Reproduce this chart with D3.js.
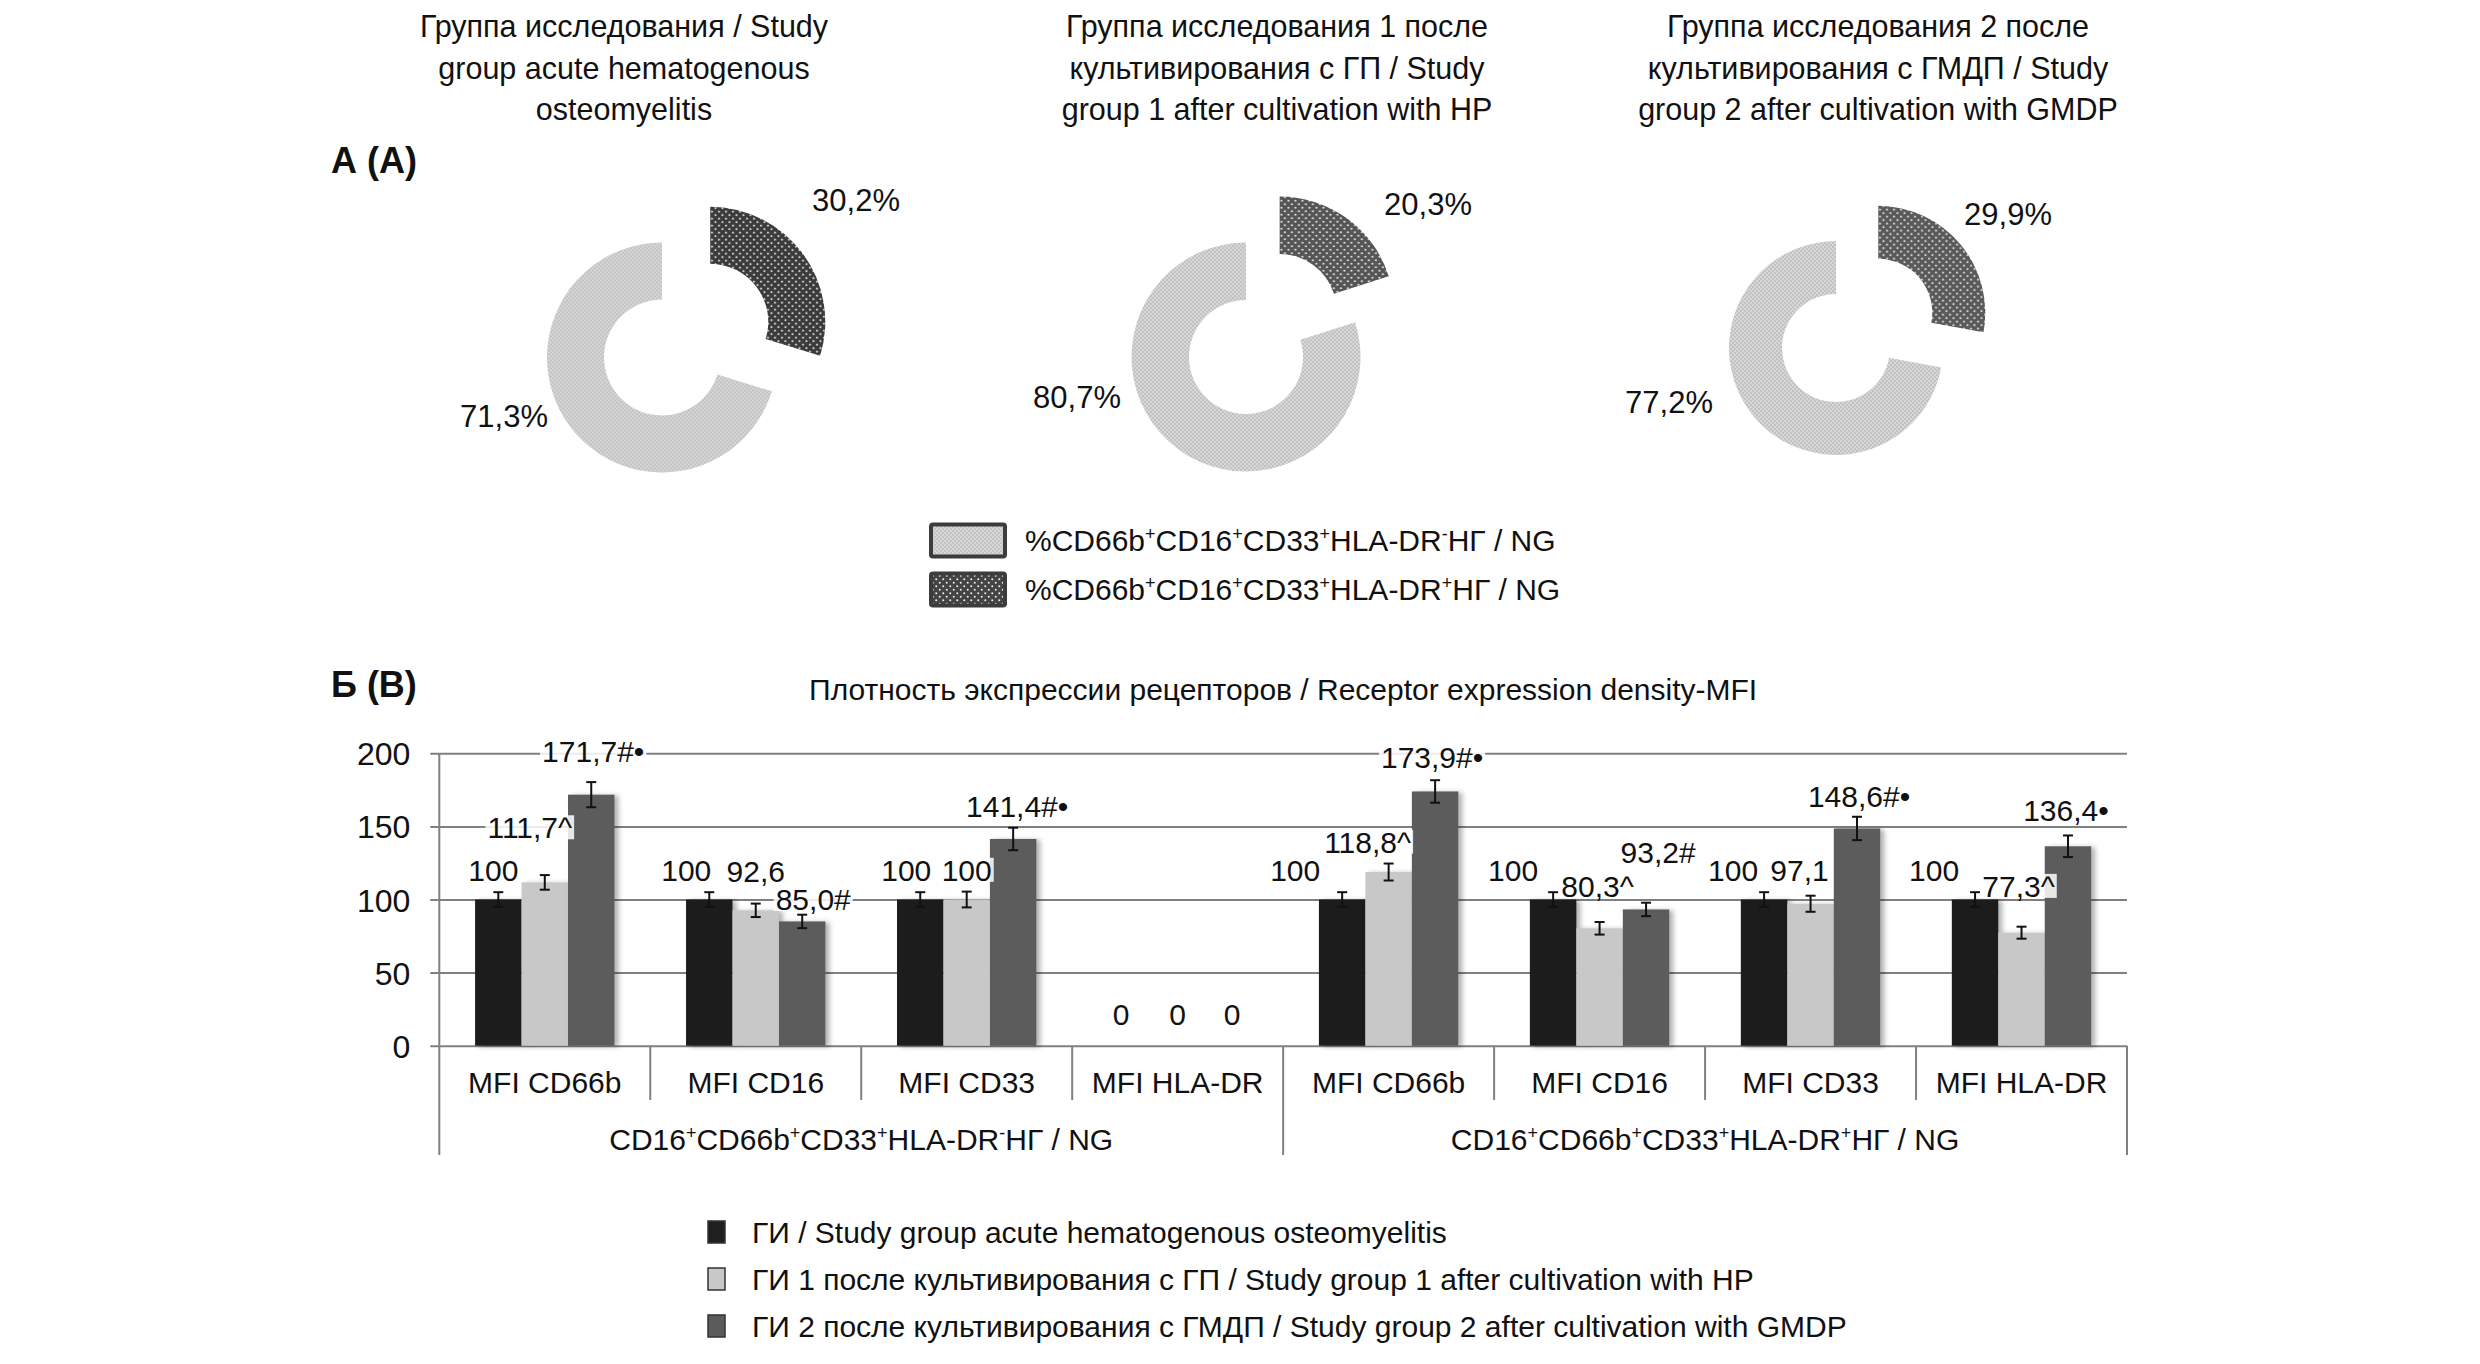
<!doctype html>
<html>
  <head>
    <meta charset="utf-8" />
    <title>CD66b CD16 CD33 HLA-DR</title>
    <script type="text/javascript" src="https://cdnjs.cloudflare.com/ajax/libs/d3/7.8.5/d3.min.js"></script>
    <style>
      body {
        margin:0;
        background:#fff;
        font-family:"Liberation Sans", Arial, sans-serif;
      }
      svg text {
        fill:#111;
      }
    </style>
  </head>
  <body>
    <div class="chart"></div>
    <script type="text/javascript">

(function() {

/*---- data ----*/

/*doughnuts (panel A)*/
var donut_titles = [
  ["Группа исследования / Study", "group acute hematogenous", "osteomyelitis"],
  ["Группа исследования 1 после", "культивирования с ГП / Study", "group 1 after cultivation with HP"],
  ["Группа исследования 2 после", "культивирования с ГМДП / Study", "group 2 after cultivation with GMDP"]
];
var pct_dr_pos = [30.2, 20.3, 29.9];   /*HLA-DR+ share*/
var pct_dr_neg = [71.3, 80.7, 77.2];   /*HLA-DR- share*/
var donut_legend = ["%CD66b⁺CD16⁺CD33⁺HLA-DR⁻НГ / NG", "%CD66b⁺CD16⁺CD33⁺HLA-DR⁺НГ / NG"];

/*bars (panel B)*/
var categories = ["MFI CD66b", "MFI CD16", "MFI CD33", "MFI HLA-DR",
                  "MFI CD66b", "MFI CD16", "MFI CD33", "MFI HLA-DR"];
var cat_groups = ["CD16⁺CD66b⁺CD33⁺HLA-DR⁻НГ / NG", "CD16⁺CD66b⁺CD33⁺HLA-DR⁺НГ / NG"];
var series_names = [
  "ГИ / Study group acute hematogenous osteomyelitis",
  "ГИ 1 после культивирования с ГП / Study group 1 after cultivation with HP",
  "ГИ 2 после культивирования с ГМДП / Study group 2 after cultivation with GMDP"
];
var vals_gi  = [100, 100, 100, 0, 100, 100, 100, 100];
var vals_gi1 = [111.7, 92.6, 100, 0, 118.8, 80.3, 97.1, 77.3];
var vals_gi2 = [171.7, 85.0, 141.4, 0, 173.9, 93.2, 148.6, 136.4];
var err_gi   = [5, 5, 5, 0, 5, 5, 5, 5];
var err_gi1  = [5, 4.6, 5.4, 0, 5.8, 4.3, 5.5, 4.1];
var err_gi2  = [8.6, 4.6, 7.7, 0, 7.7, 4.6, 8, 7.4];
var marks_gi  = ["", "", "", "", "", "", "", ""];
var marks_gi1 = ["^", "", "", "", "^", "^", "", "^"];
var marks_gi2 = ["#•", "#", "#•", "", "#•", "#", "#•", "•"];
var y_ticks = [0, 50, 100, 150, 200];

/*---- layout / style (not data) ----*/
var g = {};
g.W = 2480;
g.H = 1364;
g.font = "'Liberation Sans', Arial, sans-serif";

var donut_cx = [662, 1246, 1836];
var donut_cy = [357.5, 357, 348];
var donut_r = [[58, 115], [57, 114.5], [54, 107]];
var donut_explode = [60, 57, 55];
var donut_dark = ["#3a3a3a", "#555555", "#595959"];
var title_cx = [624, 1277, 1878];
/*where excel put the % labels, relative to doughnut centre*/
var pct_label_pos = [
  [[194, -147], [-158, 69]],
  [[182, -142], [-169, 51]],
  [[172, -123], [-167, 65]]
];

var bar_colors = ["#1f1f1f", "#c8c8c8", "#5b5b5b"];
/*manual nudges of the bar value labels, px*/
var nudge_dx = [
  [-5, -23, -14, -10, -47, -40, -31, -41],
  [-15, 0, 0, 0, -21, -2, -11, -3],
  [2, 11, 4, 8, -3, 12, 2, -2]
];
var nudge_dy = [
  [0, 0, 0, -10, 0, 0, 0, 0],
  [-26, -11, 0, -10, 0, -14, -4, -19],
  [-9, 6, 0, -10, -1, -29, 1, -3]
];

function main() {
  g.svg = d3.select(".chart").append("svg")
    .attr("width", g.W)
    .attr("height", g.H)
    .attr("viewBox", "0 0 " + g.W + " " + g.H)
    .style("font-family", g.font);

  make_defs();
  draw_donuts();
  draw_bars();
}

/*patterns + bar shadow*/
function make_defs() {
  var defs = g.svg.append("defs");

  var lp = defs.append("pattern")
    .attr("id", "dots_light")
    .attr("patternUnits", "userSpaceOnUse")
    .attr("width", 4).attr("height", 4);
  lp.append("rect").attr("width", 4).attr("height", 4).attr("fill", "#c2c2c2");
  lp.append("circle").attr("cx", 1).attr("cy", 1).attr("r", 0.8).attr("fill", "#f2f2f2");
  lp.append("circle").attr("cx", 3).attr("cy", 3).attr("r", 0.8).attr("fill", "#f2f2f2");

  donut_dark.concat(["#444444"]).forEach(function(col, i) {
    var dp = defs.append("pattern")
      .attr("id", "dots_dark_" + i)
      .attr("patternUnits", "userSpaceOnUse")
      .attr("width", 7).attr("height", 7);
    dp.append("rect").attr("width", 7).attr("height", 7).attr("fill", col);
    dp.append("circle").attr("cx", 1.75).attr("cy", 1.75).attr("r", 1).attr("fill", "#eee");
    dp.append("circle").attr("cx", 5.25).attr("cy", 5.25).attr("r", 1).attr("fill", "#eee");
  });

  var f = defs.append("filter").attr("id", "shadow")
    .attr("x", "-20%").attr("y", "-10%").attr("width", "150%").attr("height", "130%");
  f.append("feDropShadow")
    .attr("dx", 4).attr("dy", 1).attr("stdDeviation", 2.5)
    .attr("flood-color", "#000").attr("flood-opacity", 0.3);
}

/*text with ⁺ ⁻ as small raised tspans*/
function rich_text(sel, str, fs) {
  var parts = str.split(/([⁺⁻])/);
  var raised = false;
  parts.forEach(function(p) {
    if (p === "") return;
    if (p === "⁺" || p === "⁻") {
      sel.append("tspan")
        .attr("font-size", fs * 0.6)
        .attr("dy", raised ? 0 : -fs * 0.38)
        .text(p === "⁺" ? "+" : "-");
      raised = true;
    } else {
      sel.append("tspan")
        .attr("dy", raised ? fs * 0.38 : 0)
        .text(p);
      raised = false;
    }
  });
}

function draw_donuts() {
  var svg = g.svg;

  svg.append("text")
    .attr("x", 331).attr("y", 173)
    .attr("font-size", 36).attr("font-weight", "bold")
    .text("А (А)");

  var pie = d3.pie().sort(null).value(function(d) { return d; });

  donut_titles.forEach(function(lines, i) {
    var t = svg.append("text")
      .attr("text-anchor", "middle")
      .attr("font-size", 30.5);
    lines.forEach(function(line, j) {
      t.append("tspan")
        .attr("x", title_cx[i])
        .attr("y", 37 + j * 41.7)
        .text(line);
    });

    var arcs = pie([pct_dr_pos[i], pct_dr_neg[i]]);
    var arc = d3.arc().innerRadius(donut_r[i][0]).outerRadius(donut_r[i][1]);
    var dg = svg.append("g")
      .attr("transform", "translate(" + donut_cx[i] + "," + donut_cy[i] + ")");

    dg.selectAll("path.slice")
      .data(arcs)
      .enter()
      .append("path")
      .attr("class", "slice")
      .attr("d", arc)
      .attr("fill", function(d, k) { return k === 0 ? "url(#dots_dark_" + i + ")" : "url(#dots_light)"; })
      .attr("transform", function(d, k) {
        if (k !== 0) return null;
        var mid = (d.startAngle + d.endAngle) / 2;
        var e = donut_explode[i];
        return "translate(" + (Math.sin(mid) * e) + "," + (-Math.cos(mid) * e) + ")";
      });

    var fmt = function(v) { return d3.format(".1f")(v).replace(".", ",") + "%"; };
    dg.selectAll("text.pct")
      .data(arcs)
      .enter()
      .append("text")
      .attr("class", "pct")
      .attr("text-anchor", "middle")
      .attr("font-size", 31)
      .attr("x", function(d, k) { return pct_label_pos[i][k][0]; })
      .attr("y", function(d, k) { return pct_label_pos[i][k][1]; })
      .text(function(d) { return fmt(d.data); });
  });

  /*legend of the doughnuts*/
  donut_legend.forEach(function(txt, i) {
    var y0 = 523 + i * 49;
    svg.append("rect")
      .attr("x", 931).attr("y", y0 + 1.5)
      .attr("width", 74).attr("height", 32)
      .attr("rx", 2)
      .attr("fill", i === 0 ? "url(#dots_light)" : "url(#dots_dark_3)")
      .attr("stroke", "#3c3c3c")
      .attr("stroke-width", 4);
    var t = svg.append("text")
      .attr("x", 1025).attr("y", y0 + 28)
      .attr("font-size", 30);
    rich_text(t, txt, 30);
  });
}

function draw_bars() {
  var svg = g.svg;
  var left = 439.3, right = 2127, y0 = 1045.7, y200 = 753.3;
  var tbl_mid = 1100, tbl_bot = 1155;
  var grid_col = "#808080";

  svg.append("text")
    .attr("x", 331).attr("y", 697)
    .attr("font-size", 36).attr("font-weight", "bold")
    .text("Б (В)");

  svg.append("text")
    .attr("x", (left + right) / 2).attr("y", 700)
    .attr("text-anchor", "middle")
    .attr("font-size", 30)
    .text("Плотность экспрессии рецепторов / Receptor expression density-MFI");

  var x0 = d3.scaleBand().domain(d3.range(categories.length)).range([left, right]);
  var x1 = d3.scaleBand().domain([0, 1, 2]).range([0, x0.bandwidth()]).paddingOuter(0.77);
  var y = d3.scaleLinear().domain([0, 200]).range([y0, y200]);

  /*gridlines + tick labels via the axis*/
  var axis = d3.axisLeft(y)
    .tickValues(y_ticks)
    .tickSize(-(right - left + 9))
    .tickPadding(20)
    .tickFormat(d3.format("d"));
  var ax = svg.append("g")
    .attr("transform", "translate(" + right + ",0)")
    .call(axis);
  ax.select(".domain").remove();
  ax.selectAll(".tick line")
    .attr("stroke", grid_col)
    .attr("stroke-width", 2)
    .attr("x1", 0)
    .attr("x2", -(right - left + 9));
  ax.selectAll(".tick text")
    .attr("x", -(right - left + 9) - 20)
    .attr("font-size", 32)
    .attr("font-family", g.font)
    .attr("fill", "#111")
    .attr("dy", "0.36em");

  /*category table below the axis*/
  svg.append("line")
    .attr("x1", left).attr("x2", left)
    .attr("y1", y200).attr("y2", tbl_bot)
    .attr("stroke", grid_col).attr("stroke-width", 2);
  svg.append("line")
    .attr("x1", right).attr("x2", right)
    .attr("y1", y0).attr("y2", tbl_bot)
    .attr("stroke", grid_col).attr("stroke-width", 2);
  d3.range(1, categories.length).forEach(function(i) {
    svg.append("line")
      .attr("x1", x0(i)).attr("x2", x0(i))
      .attr("y1", y0).attr("y2", i === 4 ? tbl_bot : tbl_mid)
      .attr("stroke", grid_col).attr("stroke-width", 2);
  });
  svg.selectAll("text.cat")
    .data(categories)
    .enter()
    .append("text")
    .attr("class", "cat")
    .attr("text-anchor", "middle")
    .attr("font-size", 30)
    .attr("x", function(d, i) { return x0(i) + x0.bandwidth() / 2; })
    .attr("y", 1093)
    .text(function(d) { return d; });
  cat_groups.forEach(function(txt, k) {
    var t = svg.append("text")
      .attr("text-anchor", "middle")
      .attr("font-size", 30)
      .attr("x", x0(k * 4) + x0.bandwidth() * 2)
      .attr("y", 1150);
    rich_text(t, txt, 30);
  });

  /*bars*/
  var all_vals = [vals_gi, vals_gi1, vals_gi2];
  var all_errs = [err_gi, err_gi1, err_gi2];
  var all_marks = [marks_gi, marks_gi1, marks_gi2];

  var rows = [];
  all_vals.forEach(function(vals, s) {
    vals.forEach(function(v, i) {
      rows.push({s: s, i: i, v: v, e: all_errs[s][i], m: all_marks[s][i]});
    });
  });

  var bx = function(d) { return x0(d.i) + x1(d.s); };

  svg.append("g").selectAll("rect")
    .data(rows.filter(function(d) { return d.v > 0; }))
    .enter()
    .append("rect")
    .attr("x", bx)
    .attr("y", function(d) { return y(d.v); })
    .attr("width", x1.bandwidth())
    .attr("height", function(d) { return y0 - y(d.v); })
    .attr("fill", function(d) { return bar_colors[d.s]; })
    .attr("filter", "url(#shadow)");

  /*error bars*/
  var eg = svg.append("g").attr("stroke", "#111").attr("stroke-width", 2);
  rows.filter(function(d) { return d.v > 0; }).forEach(function(d) {
    var cx = bx(d) + x1.bandwidth() / 2;
    eg.append("line")
      .attr("x1", cx).attr("x2", cx)
      .attr("y1", y(d.v - d.e)).attr("y2", y(d.v + d.e));
    [d.v - d.e, d.v + d.e].forEach(function(vv) {
      eg.append("line")
        .attr("x1", cx - 5).attr("x2", cx + 5)
        .attr("y1", y(vv)).attr("y2", y(vv));
    });
  });

  /*value labels with a white box behind (gridlines are hidden by it)*/
  var fmt = function(v) {
    if (v === 0 || v === 100) return String(v);
    return d3.format(".1f")(v).replace(".", ",");
  };
  var fs = 30;
  var lg = svg.append("g");
  rows.forEach(function(d) {
    var cx = bx(d) + x1.bandwidth() / 2 + nudge_dx[d.s][d.i];
    var by = y(d.v + d.e) - 11 + nudge_dy[d.s][d.i];
    var t = lg.append("text")
      .attr("text-anchor", "middle")
      .attr("font-size", fs)
      .attr("x", cx).attr("y", by)
      .text(fmt(d.v) + d.m);
    var w = t.node().getComputedTextLength();
    lg.insert("rect", function() { return t.node(); })
      .attr("x", cx - w / 2 - 2).attr("y", by - fs * 0.76)
      .attr("width", w + 4).attr("height", fs * 0.8)
      .attr("fill", "#fff").attr("opacity", 0.85);
  });

  /*series legend*/
  series_names.forEach(function(name, s) {
    var base = 1243 + s * 47;
    svg.append("rect")
      .attr("x", 708).attr("y", base - 22)
      .attr("width", 17).attr("height", 22)
      .attr("fill", bar_colors[s])
      .attr("stroke", "#333").attr("stroke-width", 1.5);
    svg.append("text")
      .attr("x", 752).attr("y", base)
      .attr("font-size", 30)
      .text(name);
  });
}

document.addEventListener("DOMContentLoaded", main);

})();

    </script>
  </body>
</html>
